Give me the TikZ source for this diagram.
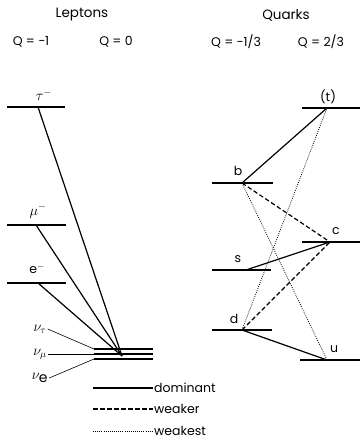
\documentclass[tikz,border=0pt]{standalone}
\usepackage{fontspec}
\setmainfont{Poppins}
\usetikzlibrary{positioning}

\begin{document}
\begin{tikzpicture}[x=1pt, y=-1pt,
  level/.style={line width=1.1pt},
  dom/.style={line width=1.2pt},
  wkr/.style={line width=1.2pt, dash pattern=on 4.5pt off 2.5pt},
  wkst/.style={line width=0.8pt, dash pattern=on 0.8pt off 1.3pt},
  lead/.style={line width=0.6pt},
  lbl/.style={font=\fontsize{12.5}{14}\selectfont, inner sep=1pt},
  sym/.style={font=\fontsize{14}{16}\selectfont, inner sep=1pt},
  ttl/.style={font=\fontsize{13.5}{16}\selectfont, inner sep=1pt}
]
  \useasboundingbox (0,0) rectangle (360,447);

  % headings
  \node[ttl] (lep) at (82,15)  {Leptons};
  \node[ttl] (qrk) at (286,15) {Quarks};
  \node[lbl] (qm1) at (31,42)  {Q = −1};
  \node[lbl] (q0)  at (116,42) {Q = 0};
  \node[lbl] (qd)  at (236,42) {Q = −1/3};
  \node[lbl] (qu)  at (321,42) {Q = 2/3};

  % levels
  \foreach \nm/\xa/\xb/\y in {tau/7/65/107, mu/7/66/225, el/7/66/283,
      nut/94/153/349, num/94/153/354, nue/94/153/359,
      t/302/360/108, b/212/273/183, c/302/360/242,
      s/212/271/270, d/212/272/330, u/300/360/360}
    \draw[level] (\xa,\y) coordinate (\nm L) -- (\xb,\y) coordinate (\nm R);

  % vertices
  \coordinate (tau) at (38,107);
  \coordinate (mu)  at (36,225);
  \coordinate (el)  at (38,283);
  \coordinate (nu)  at (122,356);
  \coordinate (t) at (327,108);
  \coordinate (b) at (242,183);
  \coordinate (c) at (330,242);
  \coordinate (s) at (246,270);
  \coordinate (d) at (242,330);
  \coordinate (u) at (327,360);

  % level labels
  \node[sym] (ltau) at (44,95)  {$\tau^-$};
  \node[sym] (lmu)  at (38,211) {$\mu^-$};
  \node[lbl] (lel)  at (37,269) {e$^-$};
  \node[sym] (lnut) at (40,329) {$\nu_\tau$};
  \node[sym] (lnum) at (40,354) {$\nu_\mu$};
  \node[sym] (lnue) at (40,378) {$\nu_{\textrm{e}}$};
  \node[lbl] (lt) at (328,97)  {(t)};
  \node[lbl] (lb) at (238,171) {b};
  \node[lbl] (lc) at (336,231) {c};
  \node[lbl] (ls) at (238,259) {s};
  \node[lbl] (ld) at (234,319) {d};
  \node[lbl] (lu) at (334,349) {u};

  % neutrino leaders
  \draw[lead] (lnut.east) -- (nutL);
  \draw[lead] (lnum.east) -- (numL);
  \draw[lead] (lnue.east) -- (nueL);

  % lepton transitions
  \draw[dom] (tau) -- (nu);
  \draw[dom] (mu) -- (nu);
  \draw[dom] (el) -- (nu);

  % quark transitions
  \draw[dom] (b) -- (t);
  \draw[dom] (s) -- (c);
  \draw[dom] (d) -- (u);
  \draw[wkr] (b) -- (c);
  \draw[wkr] (d) -- (c);
  \draw[wkst] (b) -- (u);
  \draw[wkst] (d) -- (t);

  % legend
  \coordinate (k1) at (93,388);
  \coordinate (k2) at (93,409);
  \coordinate (k3) at (93,431);
  \node[lbl, anchor=west] (kdom) at (153,388) {dominant};
  \node[lbl, anchor=west] (kwkr) at (153,409) {weaker};
  \node[lbl, anchor=west] (kwst) at (153,431) {weakest};
  \draw[dom]  (k1) -- (kdom.west);
  \draw[wkr]  (k2) -- (kwkr.west);
  \draw[wkst] (k3) -- (kwst.west);
\end{tikzpicture}
\end{document}
